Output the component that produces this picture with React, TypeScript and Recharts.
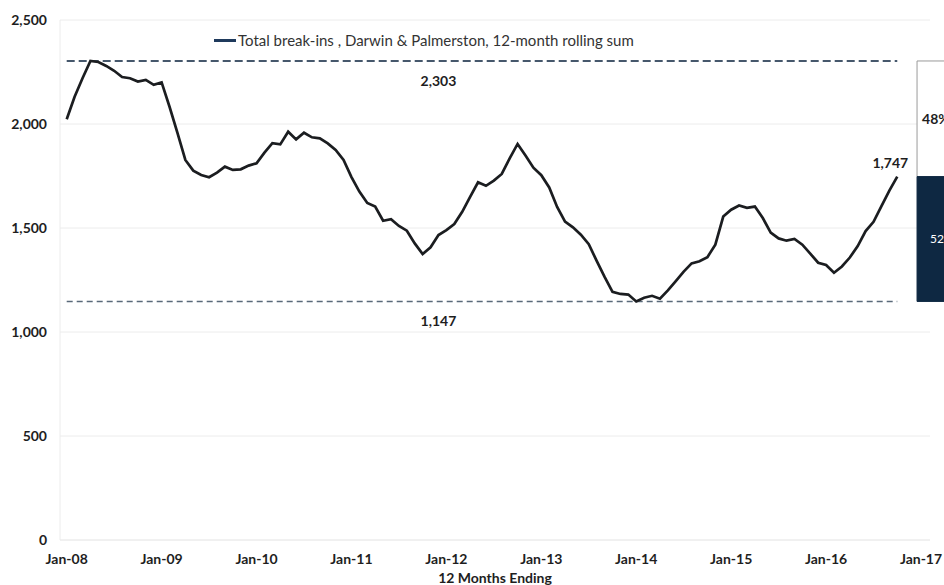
import React from "react";
import {
  CartesianGrid,
  LabelList,
  Legend,
  Line,
  LineChart,
  ReferenceArea,
  ReferenceDot,
  ReferenceLine,
  XAxis,
  YAxis,
} from "recharts";

// Total break-ins, Darwin & Palmerston, 12-month rolling sum (monthly from Jan-08)
const rollingSum = [
  2023, 2131, 2220, 2303, 2298, 2279, 2256, 2226, 2220, 2204, 2212, 2188,
  2200, 2083, 1957, 1827, 1776, 1755, 1744, 1766, 1795, 1779, 1782, 1800,
  1811, 1862, 1908, 1902, 1963, 1926, 1958, 1936, 1931, 1907, 1875, 1827,
  1745, 1675, 1620, 1603, 1535, 1542, 1510, 1487, 1426, 1375, 1407, 1466,
  1490, 1519, 1578, 1650, 1720, 1703, 1728, 1760, 1835, 1904, 1848, 1790,
  1754, 1695, 1601, 1531, 1503, 1468, 1422, 1342, 1265, 1193, 1183, 1180,
  1147, 1165, 1174, 1160, 1200, 1245, 1290, 1330, 1340, 1360, 1420, 1555,
  1588, 1608, 1597, 1603, 1548, 1478, 1450, 1439, 1447, 1420, 1377, 1333,
  1322, 1285, 1315, 1358, 1413, 1485, 1530, 1605, 1680, 1747,
];

const monthNames = ["Jan", "Feb", "Mar", "Apr", "May", "Jun", "Jul", "Aug", "Sep", "Oct", "Nov", "Dec"];
const xTickLabels = ["Jan-08", "Jan-09", "Jan-10", "Jan-11", "Jan-12", "Jan-13", "Jan-14", "Jan-15", "Jan-16", "Jan-17"];
const yTicks = [0, 500, 1000, 1500, 2000, 2500];

const periodHigh = 2303;
const periodLow = 1147;
const latest = 1747;

const seriesName = "Total break-ins , Darwin & Palmerston, 12-month rolling sum";

const data = rollingSum.map((value, i) => ({
  idx: i,
  month: `${monthNames[i % 12]}-${String(8 + Math.floor(i / 12)).padStart(2, "0")}`,
  value,
}));

const lastIdx = rollingSum.length - 1;
const fmt = (v: number) => v.toLocaleString("en-US");
const pct = (part: number) => `${Math.round((part / (periodHigh - periodLow)) * 100)}%`;

const FONT = "Lato, 'Liberation Sans', sans-serif";
const TEXT = "#1e1e1e";

// side bar sits just past the last tick and runs off the right edge
const SIDE_X1 = 107.5;
const SIDE_X2 = 112;

const LegendContent = (props: any) => {
  const item = props.payload?.[0];
  return (
    <div style={{ display: "flex", alignItems: "center", fontFamily: FONT, fontSize: 15, color: "#333" }}>
      <span style={{ display: "inline-block", width: 22, height: 3, background: "#1f3a5c", marginRight: 2 }} />
      <span>{item ? item.value : seriesName}</span>
    </div>
  );
};

const LatestLabel = (props: any) => {
  if (props.index !== lastIdx) return null;
  return (
    <text
      x={props.x - 7}
      y={props.y - 9}
      textAnchor="middle"
      fontFamily={FONT}
      fontSize={14}
      fontWeight={700}
      fill={TEXT}
    >
      {fmt(props.value)}
    </text>
  );
};

export default function App() {
  return (
    <div style={{ position: "absolute", left: 0, top: 0, width: 944, height: 585, overflow: "hidden", background: "#fff" }}>
      <LineChart
        width={944}
        height={585}
        data={data}
        margin={{ top: 20, right: 14, bottom: 0, left: 0 }}
        style={{ fontFamily: FONT }}
      >
        <CartesianGrid vertical={false} stroke="#ececec" />
        <XAxis
          dataKey="idx"
          type="number"
          domain={[0, 108]}
          ticks={[0, 12, 24, 36, 48, 60, 72, 84, 96, 108]}
          tickFormatter={(v: number) => xTickLabels[v / 12]}
          padding={{ left: 6.7, right: 9 }}
          height={45}
          tickLine={false}
          axisLine={{ stroke: "#ececec" }}
          tickMargin={8}
          tick={{ fill: TEXT, fontSize: 14, fontWeight: 700 }}
          interval={0}
          label={{
            value: "12 Months Ending",
            position: "insideBottom",
            offset: 2,
            fill: TEXT,
            fontSize: 14,
            fontWeight: 700,
          }}
        />
        <YAxis
          type="number"
          domain={[0, 2500]}
          ticks={yTicks}
          width={60}
          tickLine={false}
          axisLine={{ stroke: "#ececec" }}
          tickMargin={7}
          tickFormatter={fmt}
          tick={{ fill: TEXT, fontSize: 14, fontWeight: 700 }}
        />
        <Legend
          layout="horizontal"
          verticalAlign="middle"
          align="center"
          wrapperStyle={{ top: 31, left: 214, width: "auto", height: "auto" }}
          content={<LegendContent />}
        />

        <ReferenceArea
          x1={SIDE_X1}
          x2={SIDE_X2}
          y1={latest}
          y2={periodHigh}
          ifOverflow="visible"
          fill="#ffffff"
          fillOpacity={1}
          stroke="#9a9a9a"
          strokeWidth={1}
          label={{ value: pct(periodHigh - latest), position: "insideLeft", offset: 5, fill: TEXT, fontSize: 14, fontWeight: 700 }}
        />
        <ReferenceArea
          x1={SIDE_X1}
          x2={SIDE_X2}
          y1={periodLow}
          y2={latest}
          ifOverflow="visible"
          fill="#0e2842"
          fillOpacity={1}
          stroke="#0e2842"
          label={{ value: pct(latest - periodLow), position: "insideLeft", offset: 13, fill: "#ffffff", fontSize: 12, fontWeight: 400 }}
        />

        <ReferenceLine
          segment={[
            { x: 0, y: periodHigh },
            { x: lastIdx, y: periodHigh },
          ]}
          stroke="#46586c"
          strokeWidth={2}
          strokeDasharray="8 4"
          ifOverflow="visible"
        />
        <ReferenceLine
          segment={[
            { x: 0, y: periodLow },
            { x: lastIdx, y: periodLow },
          ]}
          stroke="#5a6a7a"
          strokeWidth={1.5}
          strokeDasharray="6 4"
          ifOverflow="visible"
        />
        <ReferenceDot
          x={47}
          y={periodHigh}
          r={0}
          fill="none"
          stroke="none"
          label={{ value: fmt(periodHigh), position: "bottom", offset: 15, fill: TEXT, fontSize: 14, fontWeight: 700 }}
        />
        <ReferenceDot
          x={47}
          y={periodLow}
          r={0}
          fill="none"
          stroke="none"
          label={{ value: fmt(periodLow), position: "bottom", offset: 15, fill: TEXT, fontSize: 14, fontWeight: 700 }}
        />

        <Line
          type="linear"
          dataKey="value"
          name={seriesName}
          stroke="#1b1d20"
          strokeWidth={2.7}
          dot={false}
          isAnimationActive={false}
        >
          <LabelList dataKey="value" content={<LatestLabel />} />
        </Line>
      </LineChart>
    </div>
  );
}
